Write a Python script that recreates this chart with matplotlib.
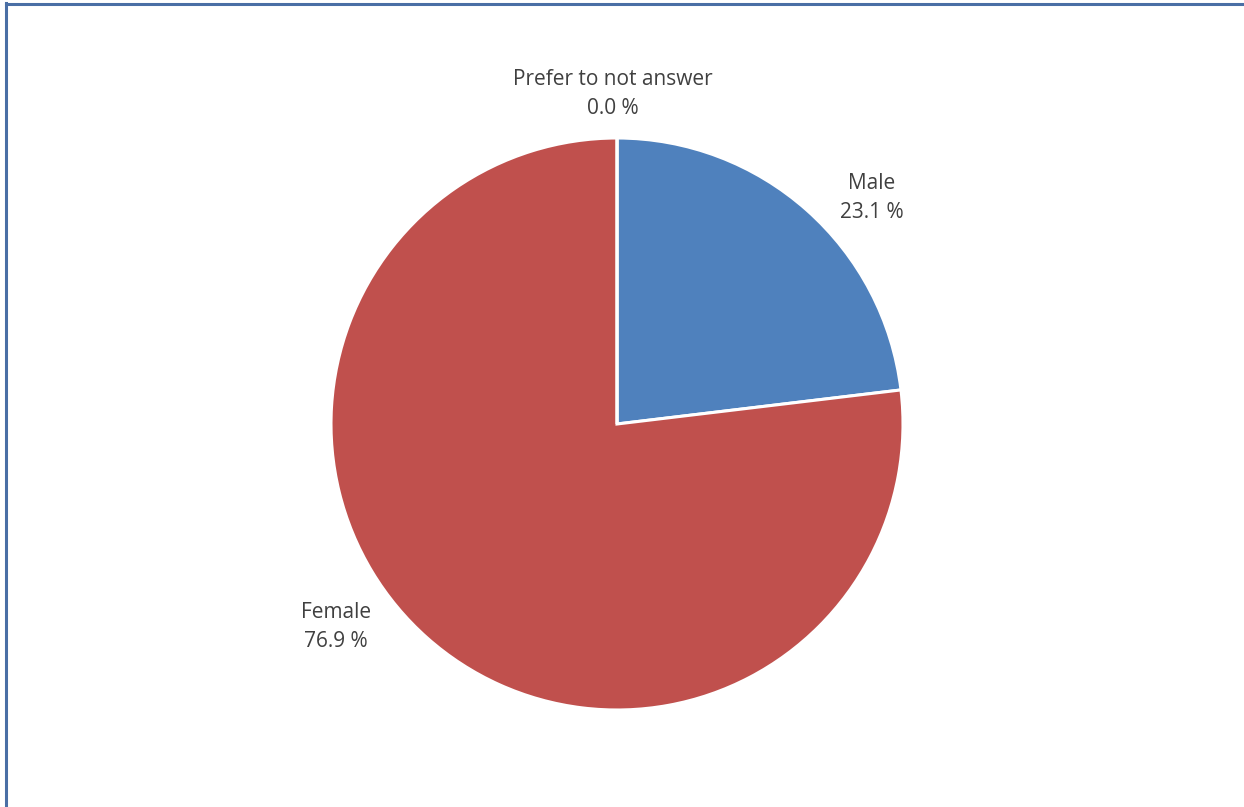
import matplotlib
matplotlib.use("Agg")
import matplotlib.pyplot as plt
from matplotlib.lines import Line2D

# data
labels = ["Male", "Female", "Prefer to not answer"]
values = [23.1, 76.9, 0.0]
colors = ["#4F81BD", "#C0504D", "#9BBB59"]

W, H = 1244, 807
cx, cy, R = 617, 424, 286  # pie centre / radius in pixels

fig = plt.figure(figsize=(W / 100, H / 100), dpi=100)
ax = fig.add_axes([0, 0, 1, 1])
ax.pie(values, colors=colors, startangle=90, counterclock=False,
       wedgeprops=dict(edgecolor="white", linewidth=2.2))
ax.set_aspect("auto")
ax.set_xlim(-cx / R, (W - cx) / R)
ax.set_ylim(-(H - cy) / R, cy / R)
ax.axis("off")

# label spots (pixels) as Excel placed them
label_pos = {"Male": (872, 198), "Female": (336, 627), "Prefer to not answer": (613, 94)}
for lab, v in zip(labels, values):
    px, py = label_pos[lab]
    ax.text((px - cx) / R, (cy - py) / R, f"{lab}\n{v:.1f} %",
            ha="center", va="center", fontsize=15, color="#404040",
            family="Open Sans", linespacing=1.5)

# frame on left and top
fig.add_artist(Line2D([5.5 / W, 5.5 / W], [0, 1 - 3 / H], color="#4A6FA5", lw=2.2,
                      transform=fig.transFigure))
fig.add_artist(Line2D([5.5 / W, 1], [1 - 3.5 / H, 1 - 3.5 / H], color="#4A6FA5", lw=2.2,
                      transform=fig.transFigure))

fig.savefig("out.png", dpi=100)
